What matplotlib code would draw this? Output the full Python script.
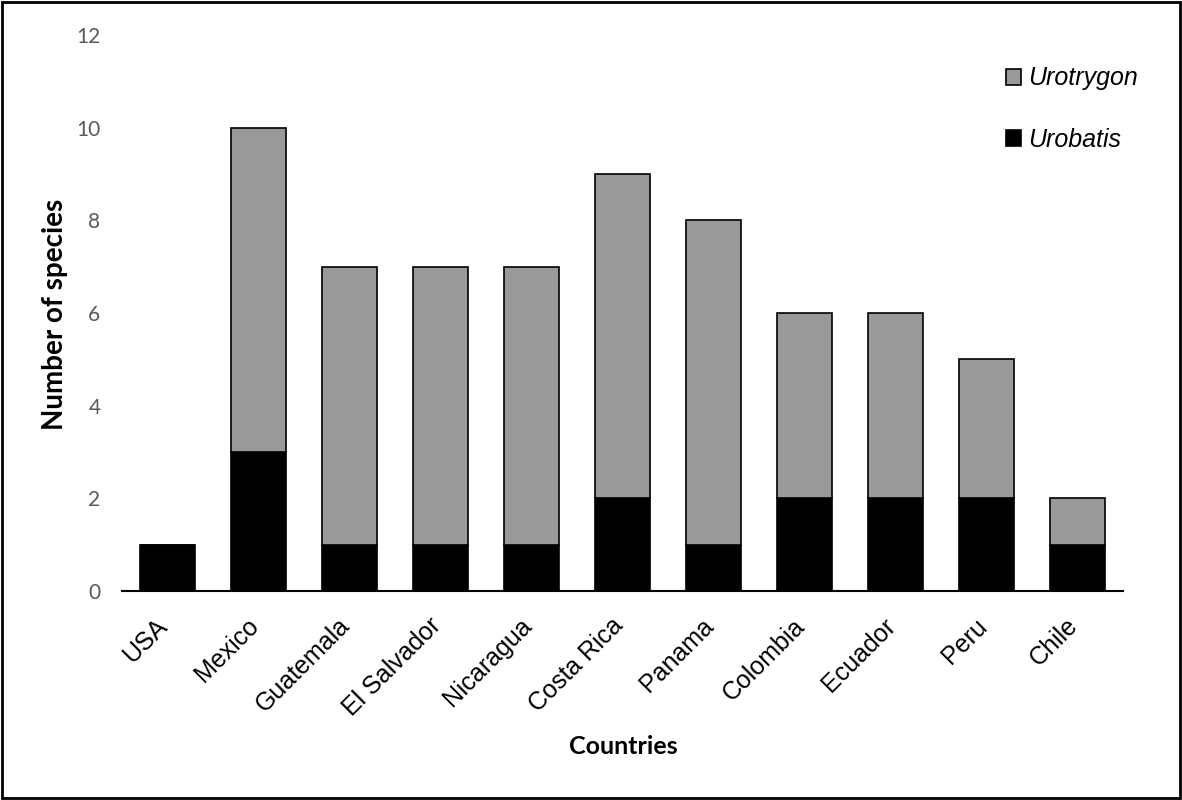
import matplotlib.pyplot as plt
import matplotlib.patches as patches
import matplotlib.transforms as mtransforms
import numpy as np

plt.rcParams['font.family'] = ['Liberation Sans', 'DejaVu Sans']

# data
countries = ['USA', 'Mexico', 'Guatemala', 'El Salvador', 'Nicaragua', 'Costa Rica',
             'Panama', 'Colombia', 'Ecuador', 'Peru', 'Chile']
urobatis = [1, 3, 1, 1, 1, 2, 1, 2, 2, 2, 1]
urotrygon = [0, 7, 6, 6, 6, 7, 7, 4, 4, 3, 1]

W, H = 1182, 800
fig = plt.figure(figsize=(W / 100, H / 100), dpi=100)
ax = fig.add_axes([122 / W, (H - 591) / H, (1123 - 122) / W, (591 - 35) / H])

x = np.arange(len(countries))
ax.bar(x, urobatis, width=0.6, color='black', edgecolor='black', linewidth=1.2, label='Urobatis')
ax.bar(x, urotrygon, width=0.6, bottom=urobatis, color='#999999', edgecolor='black',
       linewidth=1.2, label='Urotrygon')

ax.set_xlim(-0.5, len(countries) - 0.5)
ax.set_ylim(0, 12)
ax.set_yticks(range(0, 13, 2))
ax.tick_params(axis='y', length=0, pad=15.5, labelsize=15, labelcolor='#595959')
ax.tick_params(axis='x', length=0, pad=2, labelsize=18)
for t in ax.get_yticklabels():
    t.set_family('Lato')
ax.set_xticks(x)
ax.set_xticklabels(countries, rotation=45, ha='right', rotation_mode='anchor')
# nudge rotated labels a bit left and down
shift = mtransforms.ScaledTranslation(-12 / 100, -20 / 100, fig.dpi_scale_trans)
for t in ax.get_xticklabels():
    t.set_transform(t.get_transform() + shift)

for s in ['top', 'right', 'left']:
    ax.spines[s].set_visible(False)
ax.spines['bottom'].set_linewidth(1.5)

fig.text(55 / W, 1 - 314 / H, 'Number of species', fontsize=20, fontweight='bold',
         family='Lato', rotation=90, ha='center', va='center')
fig.text(623 / W, 1 - 747 / H, 'Countries', fontsize=18, fontweight='bold',
         family='Lato', ha='center', va='center')

# legend, Urotrygon on top
handles, labels = ax.get_legend_handles_labels()
leg = fig.legend(handles[::-1], labels[::-1], loc='upper left',
                 bbox_to_anchor=(983 / W, 1 - 44 / H), frameon=False,
                 prop={'style': 'italic', 'size': 18}, handlelength=0.6, handleheight=0.6,
                 handletextpad=0.3, labelspacing=1.5)

# figure border
fig.patches.append(patches.Rectangle((0.002, 0.002), 0.996, 0.996, transform=fig.transFigure,
                                     fill=False, edgecolor='black', linewidth=2))

fig.savefig('out.png', dpi=100)
